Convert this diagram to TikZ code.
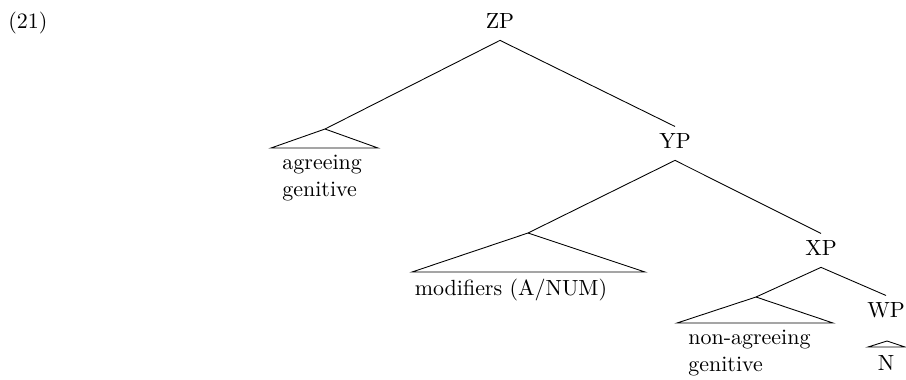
\documentclass[tikz,border=0pt]{standalone}
\usepackage{amsfonts, amsmath, amssymb}
\usepackage{tikz}

\begin{document}
\begin{tikzpicture}[x=0.016cm, y=-0.016cm,
  cat/.style={inner xsep=1pt, inner ysep=3pt, text height=6.83pt, text depth=2.2pt, anchor = base},
  leaf/.style={inner sep=0pt, align=left, anchor = base west}]
\useasboundingbox (0,0) rectangle (906,379);
\node [inner sep=0pt, anchor = base west] (ex) at (8,28.5) {(21)};
\node [cat] (ZP) at (500,28.5) {ZP};
\node [cat] (YP) at (675,148.5) {YP};
\node [cat] (XP) at (821,255.5) {XP};
\node [cat] (WP) at (886,317.5) {WP};
% roofs
\coordinate (agr) at (325,129);
\coordinate (agrL) at (271,148);
\coordinate (agrR) at (378,148);
\coordinate (mod) at (528,233);
\coordinate (modL) at (412,272);
\coordinate (modR) at (645,272);
\coordinate (nag) at (756,297);
\coordinate (nagL) at (677,323);
\coordinate (nagR) at (833,323);
\coordinate (nn) at (887,341);
\coordinate (nnL) at (868,347);
\coordinate (nnR) at (905,347);
\draw (agr) -- (agrL) -- (agrR) -- cycle;
\draw (mod) -- (modL) -- (modR) -- cycle;
\draw (nag) -- (nagL) -- (nagR) -- cycle;
\draw (nn) -- (nnL) -- (nnR) -- cycle;
% branches
\draw (ZP.south) -- (agr);
\draw (ZP.south) -- (YP.north);
\draw (YP.south) -- (mod);
\draw (YP.south) -- (XP.north);
\draw (XP.south) -- (nag);
\draw (XP.south) -- (WP.north);
% leaves
\node [leaf] (agrtxt) at (282,196) {agreeing\\genitive};
\node [inner sep=0pt, anchor = base] (modtxt) at (511,295) {modifiers (A/NUM)};
\node [leaf] (nagtxt) at (688,371) {non-agreeing\\genitive};
\node [inner sep=0pt, anchor = base] (N) at (886,370) {N};
\end{tikzpicture}
\end{document}
